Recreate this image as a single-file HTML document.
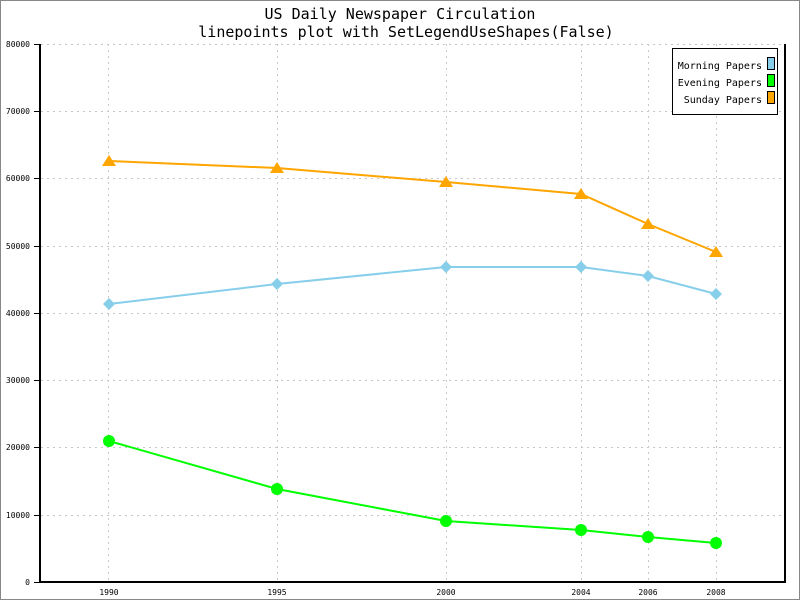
<!DOCTYPE html>
<html><head><meta charset="utf-8"><style>
body{margin:0;background:#fff}
svg{display:block}
text{font-family:"DejaVu Sans Mono","Liberation Mono",monospace}
</style></head><body>
<svg width="800" height="600" xmlns="http://www.w3.org/2000/svg">
<rect x="0.5" y="0.5" width="799" height="599" fill="#fff" stroke="#888"/>
<text x="400" y="19" font-size="15" text-anchor="middle">US Daily Newspaper Circulation</text>
<text x="406" y="37" font-size="15" text-anchor="middle">linepoints plot with SetLegendUseShapes(False)</text>
<g stroke="#c8c8c8" stroke-dasharray="2,4" stroke-width="1">
<line x1="41" x2="785" y1="44.5" y2="44.5"/><line x1="41" x2="785" y1="111.5" y2="111.5"/>
<line x1="41" x2="785" y1="178.5" y2="178.5"/><line x1="41" x2="785" y1="246.5" y2="246.5"/>
<line x1="41" x2="785" y1="313.5" y2="313.5"/><line x1="41" x2="785" y1="380.5" y2="380.5"/>
<line x1="41" x2="785" y1="447.5" y2="447.5"/><line x1="41" x2="785" y1="515.5" y2="515.5"/>
<line x1="108.5" x2="108.5" y1="44" y2="582"/><line x1="277.5" x2="277.5" y1="44" y2="582"/>
<line x1="446.5" x2="446.5" y1="44" y2="582"/><line x1="581.5" x2="581.5" y1="44" y2="582"/>
<line x1="648.5" x2="648.5" y1="44" y2="582"/><line x1="716.5" x2="716.5" y1="44" y2="582"/>
</g>
<g stroke="#000" stroke-width="2">
<line x1="40" y1="44" x2="40" y2="583"/><line x1="40" y1="582" x2="786" y2="582"/><line x1="785" y1="44" x2="785" y2="583"/>
</g>
<g stroke="#000" stroke-width="1">
<line x1="34" x2="40" y1="44.5" y2="44.5"/><line x1="34" x2="40" y1="111.5" y2="111.5"/><line x1="34" x2="40" y1="178.5" y2="178.5"/><line x1="34" x2="40" y1="246.5" y2="246.5"/><line x1="34" x2="40" y1="313.5" y2="313.5"/><line x1="34" x2="40" y1="380.5" y2="380.5"/><line x1="34" x2="40" y1="447.5" y2="447.5"/><line x1="34" x2="40" y1="515.5" y2="515.5"/><line x1="34" x2="40" y1="582.5" y2="582.5"/>
</g>
<g font-size="8" text-anchor="end">
<text x="30" y="47">80000</text><text x="30" y="114">70000</text><text x="30" y="181">60000</text><text x="30" y="249">50000</text><text x="30" y="316">40000</text><text x="30" y="383">30000</text><text x="30" y="450">20000</text><text x="30" y="518">10000</text><text x="30" y="585">0</text>
</g>
<g font-size="8" text-anchor="middle">
<text x="109" y="595">1990</text><text x="277" y="595">1995</text><text x="446" y="595">2000</text><text x="581" y="595">2004</text><text x="648" y="595">2006</text><text x="716" y="595">2008</text>
</g>
<polyline fill="none" stroke="#87ceeb" stroke-width="2" points="109,304 277,284 446,267 581,267 648,276 716,294"/>
<g fill="#87ceeb">
<polygon points="109,298 115,304 109,310 103,304"/><polygon points="277,278 283,284 277,290 271,284"/><polygon points="446,261 452,267 446,273 440,267"/><polygon points="581,261 587,267 581,273 575,267"/><polygon points="648,270 654,276 648,282 642,276"/><polygon points="716,288 722,294 716,300 710,294"/>
</g>
<polyline fill="none" stroke="#00ff00" stroke-width="2" points="109,441 277,489 446,521 581,530 648,537 716,543"/>
<g fill="#00ff00">
<circle cx="109" cy="441" r="6"/><circle cx="277" cy="489" r="6"/><circle cx="446" cy="521" r="6"/><circle cx="581" cy="530" r="6"/><circle cx="648" cy="537" r="6"/><circle cx="716" cy="543" r="6"/>
</g>
<polyline fill="none" stroke="#ffa500" stroke-width="2" points="109,161 277,168 446,182 581,194 648,224 716,252"/>
<g fill="#ffa500">
<polygon points="109,155 116,166 102,166"/><polygon points="277,162 284,173 270,173"/><polygon points="446,176 453,187 439,187"/><polygon points="581,188 588,199 574,199"/><polygon points="648,218 655,229 641,229"/><polygon points="716,246 723,257 709,257"/>
</g>
<rect x="672.5" y="48.5" width="105" height="66" fill="#fff" stroke="#000"/>
<g font-size="10" text-anchor="end">
<text x="762" y="69">Morning Papers</text><text x="762" y="86">Evening Papers</text><text x="762" y="103">Sunday Papers</text>
</g>
<rect x="767.5" y="57.5" width="7" height="12" fill="#87ceeb" stroke="#000"/>
<rect x="767.5" y="74.5" width="7" height="12" fill="#00ff00" stroke="#000"/>
<rect x="767.5" y="91.5" width="7" height="12" fill="#ffa500" stroke="#000"/>
</svg>
</body></html>
